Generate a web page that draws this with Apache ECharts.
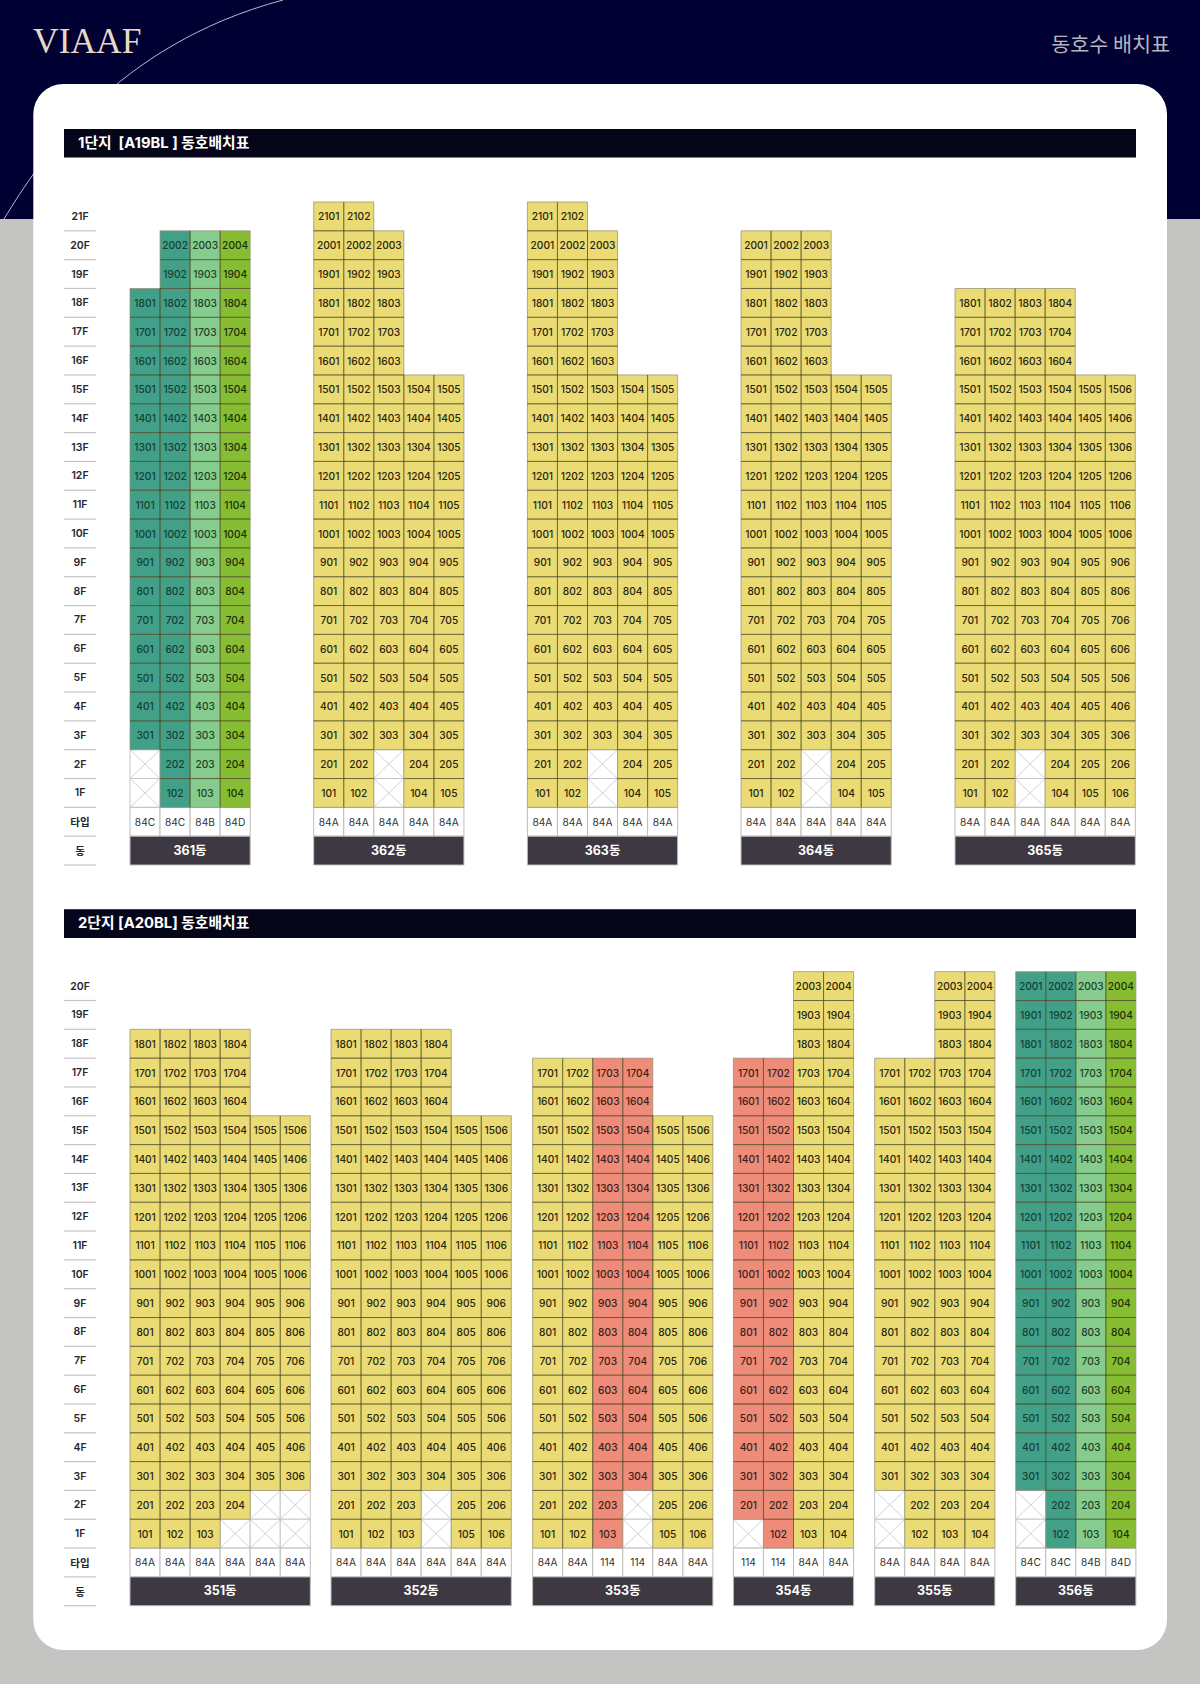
<!DOCTYPE html>
<html>
<head>
<meta charset="utf-8">
<style>
  html, body { margin: 0; padding: 0; background: #c4c4c2; }
  #main { width: 1200px; height: 1684px; }
</style>
<script src="https://cdn.jsdelivr.net/npm/echarts@6/dist/echarts.min.js"></script>
</head>
<body>
<div id="main"></div>
<script>
const floorsA = ['21F', '20F', '19F', '18F', '17F', '16F', '15F', '14F', '13F', '12F', '11F', '10F', '9F', '8F', '7F', '6F', '5F', '4F', '3F', '2F', '1F', '타입', '동']
const floorsB = ['20F', '19F', '18F', '17F', '16F', '15F', '14F', '13F', '12F', '11F', '10F', '9F', '8F', '7F', '6F', '5F', '4F', '3F', '2F', '1F', '타입', '동']

// 1단지
const namesA = ['361동', '362동', '363동', '364동', '365동']
const topsA = [
  [18, 20, 20, 20],
  [21, 21, 20, 15, 15],
  [21, 21, 20, 15, 15],
  [20, 20, 20, 15, 15],
  [18, 18, 18, 18, 15, 15]
]
const bottomsA = [
  [3, 1, 1, 1],
  [1, 1, 3, 1, 1],
  [1, 1, 3, 1, 1],
  [1, 1, 3, 1, 1],
  [1, 1, 3, 1, 1, 1]
]
const typesA = [
  ['84C', '84C', '84B', '84D'],
  ['84A', '84A', '84A', '84A', '84A'],
  ['84A', '84A', '84A', '84A', '84A'],
  ['84A', '84A', '84A', '84A', '84A'],
  ['84A', '84A', '84A', '84A', '84A', '84A']
]

// 2단지
const namesB = ['351동', '352동', '353동', '354동', '355동', '356동']
const topsB = [
  [18, 18, 18, 18, 15, 15],
  [18, 18, 18, 18, 15, 15],
  [17, 17, 17, 17, 15, 15],
  [17, 17, 20, 20],
  [17, 17, 20, 20],
  [20, 20, 20, 20]
]
const bottomsB = [
  [1, 1, 1, 2, 3, 3],
  [1, 1, 1, 3, 1, 1],
  [1, 1, 1, 3, 1, 1],
  [2, 1, 1, 1],
  [3, 1, 1, 1],
  [3, 1, 1, 1]
]
const typesB = [
  ['84A', '84A', '84A', '84A', '84A', '84A'],
  ['84A', '84A', '84A', '84A', '84A', '84A'],
  ['84A', '84A', '114', '114', '84A', '84A'],
  ['114', '114', '84A', '84A'],
  ['84A', '84A', '84A', '84A'],
  ['84C', '84C', '84B', '84D']
]

const typeColors = { '84A': '#ebdb74', '114': '#ee8b79', '84B': '#86cc8f', '84C': '#42a088', '84D': '#87bd33' }
const textColors = { '84A': '#29250f', '114': '#3a1f18', '84B': '#1f3f28', '84C': '#143f35', '84D': '#1c3009' }
const font = 'Inter, "Noto Sans CJK KR", sans-serif'
const krFont = '"Noto Sans CJK KR", sans-serif'

// 화면 배치
const cellW = 30.05
const topA = 202, heightA = 663
const topB = 971.7, heightB = 634
const leftsA = [130, 313.7, 527.4, 741, 955]
const leftsB = [130, 331, 532.6, 733.4, 874.7, 1015.7]
const innerLine = 'rgba(70,66,30,0.5)'
const outerLine = 'rgba(150,145,120,0.75)'

const grids = [], xAxes = [], yAxes = [], series = []

function addGrid (left, top, width, height, cols, floors) {
  grids.push({ left, top, width, height, containLabel: false })
  xAxes.push({ type: 'category', gridIndex: grids.length - 1, data: cols, show: false })
  yAxes.push({ type: 'category', gridIndex: grids.length - 1, data: floors, inverse: true, show: false })
  return grids.length - 1
}

function text (x, y, str, size, weight, fill, family) {
  return {
    type: 'text',
    z2: 8,
    style: { x, y, text: str, fontSize: size, fontWeight: weight, fontFamily: family || font, fill, align: 'center', verticalAlign: 'middle' }
  }
}

function line (x1, y1, x2, y2, stroke, width, z2) {
  return { type: 'line', z2: z2 || 0, shape: { x1, y1, x2, y2 }, style: { stroke, lineWidth: width } }
}

function cellRender (rows) {
  const units = {}
  rows.forEach(r => {
    if (r.kind === 'unit') units[r.col + '_' + r.floor] = true
  })
  const isUnit = (col, floor) => units[col + '_' + floor] === true

  return function (params, api) {
    const row = rows[params.dataIndex]
    const c = api.coord([row.col, row.floor])
    const s = api.size([1, 1])
    const x = c[0] - s[0] / 2
    const y = c[1] - s[1] / 2
    const w = s[0]
    const h = s[1]
    if (row.kind === 'unit') {
      // 이웃 세대와 맞닿은 변은 진하게, 바깥 변은 연하게
      const edge = (on, z) => on ? [innerLine, z + 1] : [outerLine, z]
      const top = edge(isUnit(row.col, row.floor - 1), 4)
      const bottom = edge(isUnit(row.col, row.floor + 1), 4)
      const left = edge(isUnit(row.col - 1, row.floor), 4)
      const right = edge(isUnit(row.col + 1, row.floor), 4)
      return {
        type: 'group',
        children: [
          { type: 'rect', z2: 2, shape: { x, y, width: w, height: h }, style: { fill: typeColors[row.type] } },
          line(x, y, x + w, y, top[0], 1, top[1]),
          line(x, y + h, x + w, y + h, bottom[0], 1, bottom[1]),
          line(x, y, x, y + h, left[0], 1, left[1]),
          line(x + w, y, x + w, y + h, right[0], 1, right[1]),
          text(c[0], c[1], row.label, 10.2, 500, textColors[row.type])
        ]
      }
    }
    if (row.kind === 'hole') {
      return {
        type: 'group',
        children: [
          { type: 'rect', z2: 1, shape: { x, y, width: w, height: h }, style: { fill: '#fff', stroke: '#c6c6c6', lineWidth: 1 } },
          line(x, y, x + w, y + h, '#c6c6c6', 0.8, 1),
          line(x + w, y, x, y + h, '#c6c6c6', 0.8, 1)
        ]
      }
    }
    if (row.kind === 'type') {
      return {
        type: 'group',
        children: [
          { type: 'rect', z2: 1, shape: { x, y, width: w, height: h }, style: { fill: '#fff', stroke: '#bdbdbd', lineWidth: 1 } },
          text(c[0], c[1], row.label, 10.2, 400, '#333')
        ]
      }
    }
    // 동 이름 줄은 전체 칸을 합쳐서 그린다
    const total = w * row.span
    return {
      type: 'group',
      children: [
        { type: 'rect', z2: 1, shape: { x, y, width: total, height: h }, style: { fill: '#3d3841', stroke: '#bdbdbd', lineWidth: 1 } },
        text(x + total / 2, c[1] - 0.5, row.label, 12.5, 700, '#fff', font)
      ]
    }
  }
}

function addBuilding (left, top, height, floors, name, tops, bottoms, types) {
  const cols = types.map((t, i) => String(i + 1))
  const index = addGrid(left, top, cellW * types.length, height, cols, floors)
  const rows = []
  types.forEach((type, col) => {
    for (let f = tops[col]; f >= 1; f--) {
      const floor = floors.indexOf(f + 'F')
      const label = String(f * 100 + col + 1)
      rows.push({ col, floor, type, label, kind: f >= bottoms[col] ? 'unit' : 'hole' })
    }
    rows.push({ col, floor: floors.indexOf('타입'), type, label: type, kind: 'type' })
  })
  rows.push({ col: 0, floor: floors.indexOf('동'), label: name, kind: 'name', span: types.length })
  series.push({
    type: 'custom',
    xAxisIndex: index,
    yAxisIndex: index,
    silent: true,
    clip: false,
    animation: false,
    data: rows.map(r => [r.col, r.floor]),
    encode: { x: 0, y: 1 },
    renderItem: cellRender(rows)
  })
}

function addFloorLabels (top, height, floors) {
  const index = addGrid(64, top, 32, height, ['층'], floors)
  series.push({
    type: 'custom',
    xAxisIndex: index,
    yAxisIndex: index,
    silent: true,
    clip: false,
    animation: false,
    data: floors.map((f, i) => [0, i]),
    encode: { x: 0, y: 1 },
    renderItem: function (params, api) {
      const c = api.coord([0, params.dataIndex])
      const s = api.size([1, 1])
      const isKr = floors[params.dataIndex] === '타입' || floors[params.dataIndex] === '동'
      return {
        type: 'group',
        children: [
          text(c[0], c[1], floors[params.dataIndex], 10.5, 600, '#26262c', isKr ? krFont : font),
          line(c[0] - s[0] / 2, c[1] + s[1] / 2, c[0] + s[0] / 2, c[1] + s[1] / 2, '#c4c4c4', 1.2)
        ]
      }
    }
  })
}

addFloorLabels(topA, heightA, floorsA)
namesA.forEach((name, i) => addBuilding(leftsA[i], topA, heightA, floorsA, name, topsA[i], bottomsA[i], typesA[i]))
addFloorLabels(topB, heightB, floorsB)
namesB.forEach((name, i) => addBuilding(leftsB[i], topB, heightB, floorsB, name, topsB[i], bottomsB[i], typesB[i]))

function titleBar (top, str) {
  return [
    { type: 'rect', z: -5, shape: { x: 64, y: top, width: 1072, height: 28.6 }, style: { fill: '#06061a' } },
    {
      type: 'text', z: -4, style: {
        x: 78, y: top + 13.5, text: str, fontSize: 14.8, fontWeight: 700, fontFamily: font, fill: '#fff',
        align: 'left', verticalAlign: 'middle'
      }
    }
  ]
}

const chart = echarts.init(document.getElementById('main'), null, { renderer: 'svg', width: 1200, height: 1684 })
chart.setOption({
  animation: false,
  backgroundColor: '#c4c4c2',
  grid: grids,
  xAxis: xAxes,
  yAxis: yAxes,
  series: series,
  graphic: {
    elements: [
      { type: 'rect', z: -20, shape: { x: 0, y: 0, width: 1200, height: 219 }, style: { fill: '#000033' } },
      { type: 'bezierCurve', z: -19, shape: { x1: 4, y1: 219, cpx1: 40, cpy1: 160, cpx2: 115, cpy2: 45, x2: 283, y2: 0 }, style: { fill: 'none', stroke: '#b9b9cb', lineWidth: 1 } },
      { type: 'rect', z: -10, shape: { x: 33.3, y: 84, width: 1133.7, height: 1566, r: 30 }, style: { fill: '#fff' } },
      {
        type: 'text', z: -9, style: {
          x: 33, y: 41, text: 'VIAAF', fontSize: 35.5, fontFamily: '"Liberation Serif", serif', fontWeight: 400, fill: '#e6d9c6',
          align: 'left', verticalAlign: 'middle'
        }
      },
      {
        type: 'text', z: -9, style: {
          x: 1170, y: 42.5, text: '동호수 배치표', fontSize: 20.7, fontFamily: krFont, fontWeight: 400, fill: '#b4b4be',
          align: 'right', verticalAlign: 'middle'
        }
      },
      ...titleBar(129, '1단지  [A19BL ] 동호배치표'),
      ...titleBar(909.3, '2단지 [A20BL] 동호배치표')
    ]
  }
})
</script>
</body>
</html>
